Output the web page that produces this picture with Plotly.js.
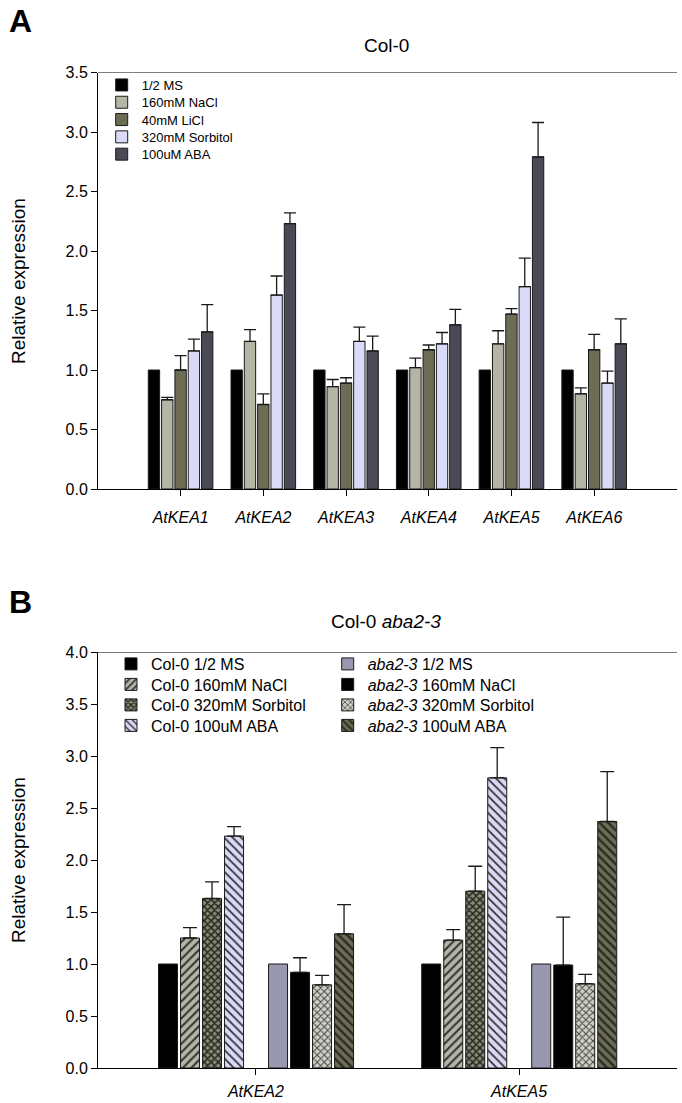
<!DOCTYPE html>
<html>
<head>
<meta charset="utf-8">
<script src="https://cdn.plot.ly/plotly-3.0.1.min.js"></script>
<style>html,body{margin:0;padding:0;background:#fff;}#chart{width:682px;height:1103px;}</style>
</head>
<body>
<div id="chart"></div>
<script>
// ---------- Panel A data ----------
const genesA = ['AtKEA1', 'AtKEA2', 'AtKEA3', 'AtKEA4', 'AtKEA5', 'AtKEA6'];
const seriesA = ['1/2 MS', '160mM NaCl', '40mM LiCl', '320mM Sorbitol', '100uM ABA'];
const msA      = [1.00, 1.00, 1.00, 1.00, 1.00, 1.00];
const naclA    = [0.75, 1.24, 0.86, 1.02, 1.22, 0.80];
const naclAErr = [0.02, 0.10, 0.06, 0.08, 0.11, 0.05];
const liclA    = [1.00, 0.71, 0.89, 1.17, 1.47, 1.17];
const liclAErr = [0.12, 0.09, 0.045, 0.04, 0.045, 0.13];
const sorbA    = [1.16, 1.63, 1.24, 1.22, 1.70, 0.89];
const sorbAErr = [0.10, 0.16, 0.12, 0.095, 0.24, 0.10];
const abaA     = [1.32, 2.23, 1.16, 1.38, 2.79, 1.22];
const abaAErr  = [0.23, 0.09, 0.125, 0.13, 0.29, 0.21];

// ---------- Panel B data ----------
const genesB = ['AtKEA2', 'AtKEA5'];
const seriesB = ['Col-0 1/2 MS', 'Col-0 160mM NaCl', 'Col-0 320mM Sorbitol', 'Col-0 100uM ABA',
                 '<i>aba2-3</i> 1/2 MS', '<i>aba2-3</i> 160mM NaCl', '<i>aba2-3</i> 320mM Sorbitol', '<i>aba2-3</i> 100uM ABA'];
const colMs      = [1.00, 1.00];
const colNacl    = [1.25, 1.23];
const colNaclErr = [0.10, 0.10];
const colSorb    = [1.63, 1.70];
const colSorbErr = [0.16, 0.24];
const colAba     = [2.23, 2.79];
const colAbaErr  = [0.09, 0.29];
const abaMs      = [1.00, 1.00];
const abaNacl    = [0.92, 0.99];
const abaNaclErr = [0.14, 0.46];
const abaSorb    = [0.80, 0.81];
const abaSorbErr = [0.09, 0.09];
const abaAba     = [1.29, 2.37];
const abaAbaErr  = [0.28, 0.48];

// ---------- helpers ----------
const W = 682, H = 1103;
const px = v => v / W;
const py = v => 1 - v / H;
const FONT = 'Arial, "Liberation Sans", sans-serif';
const zeros = n => new Array(n).fill(0);

function errObj(arr, w) {
  if (!arr) return {visible: false};
  return {type: 'data', symmetric: false, array: arr, arrayminus: zeros(arr.length),
          color: '#1a1a1a', thickness: 1.3, width: w};
}

const traces = [];
const layoutLegends = {};
let legendCount = 0;
function addLegend(xPx, yPx, size) {
  legendCount += 1;
  const id = legendCount === 1 ? 'legend' : 'legend' + legendCount;
  layoutLegends[id] = {
    x: px(xPx), y: py(yPx), xanchor: 'left', yanchor: 'middle',
    bgcolor: 'rgba(0,0,0,0)', borderwidth: 0,
    font: {family: FONT, size: size, color: '#000'},
    itemclick: false, itemdoubleclick: false
  };
  return id;
}

// ---------- Panel A traces ----------
const valsA = [msA, naclA, liclA, sorbA, abaA];
const errsA = [null, naclAErr, liclAErr, sorbAErr, abaAErr];
const colorsA = ['#000000', '#b5b5a6', '#6d6d56', '#dadaf8', '#4a4a56'];
const slotA = 0.161, widthA = 0.137, startA = -0.392;
const legARow = [85, 102.3, 119.6, 136.9, 154.2];
for (let i = 0; i < seriesA.length; i++) {
  const lg = addLegend(101.7, legARow[i], 13);
  traces.push({
    type: 'bar', name: seriesA[i], x: genesA, y: valsA[i],
    xaxis: 'x', yaxis: 'y', legend: lg,
    offset: startA + i * slotA, width: widthA,
    marker: {color: colorsA[i], line: {color: '#1a1a1a', width: 1}},
    error_y: errObj(errsA[i], 6)
  });
}

// ---------- Panel B traces ----------
const valsB = [colMs, colNacl, colSorb, colAba, abaMs, abaNacl, abaSorb, abaAba];
const errsB = [null, colNaclErr, colSorbErr, colAbaErr, null, abaNaclErr, abaSorbErr, abaAbaErr];
const bgB = ['#000000', '#b5b5a6', '#8a8a78', '#dadaf8', '#9898b0', '#000000', '#cfcfc6', '#6d6d56'];
const patB = [
  null,
  {shape: '/', fgcolor: '#333333', size: 6, solidity: 0.35},
  {shape: 'x', fgcolor: '#2a2a20', size: 5, solidity: 0.55},
  {shape: '\\', fgcolor: '#333333', size: 6, solidity: 0.3},
  null,
  null,
  {shape: 'x', fgcolor: '#444444', size: 5, solidity: 0.35},
  {shape: '\\', fgcolor: '#2a2a22', size: 6, solidity: 0.4}
];
const slotIdxB = [0, 1, 2, 3, 5, 6, 7, 8];
const slotB = 0.0836, widthB = 0.0722, startB = -0.37;
const legBRow = [664, 684.5, 705, 725.5];
for (let i = 0; i < seriesB.length; i++) {
  const col = i < 4 ? 0 : 1;
  const lg = addLegend(col === 0 ? 111 : 327.7, legBRow[i % 4], 16);
  const marker = {color: bgB[i], line: {color: '#1a1a1a', width: 1}};
  if (patB[i]) {
    marker.pattern = Object.assign({fillmode: 'replace', bgcolor: bgB[i]}, patB[i]);
  }
  traces.push({
    type: 'bar', name: seriesB[i], x: genesB, y: valsB[i],
    xaxis: 'x2', yaxis: 'y2', legend: lg,
    offset: startB + slotIdxB[i] * slotB, width: widthB,
    marker: marker,
    error_y: errObj(errsB[i], 7)
  });
}

// ---------- axes ----------
const xDom = [px(98), px(677)];
const axisCommon = {
  showline: true, linecolor: '#000', linewidth: 1,
  ticks: 'outside', ticklen: 6, tickcolor: '#000', tickwidth: 1,
  showgrid: false, zeroline: false, fixedrange: true
};
const layout = Object.assign({
  width: W, height: H,
  margin: {l: 0, r: 0, t: 0, b: 0},
  paper_bgcolor: '#fff', plot_bgcolor: '#fff',
  barmode: 'group',
  showlegend: true,
  font: {family: FONT, color: '#000'},
  xaxis: Object.assign({}, axisCommon, {
    domain: xDom, anchor: 'y', type: 'category', range: [-1, 6],
    tickfont: {family: FONT, size: 16, style: 'italic', color: '#000'}, ticklabelstandoff: 8
  }),
  yaxis: Object.assign({}, axisCommon, {
    domain: [py(489), py(72.5)], anchor: 'x', range: [0, 3.5], dtick: 0.5, tick0: 0,
    tickformat: '.1f', tickfont: {family: FONT, size: 16, color: '#000'}
  }),
  xaxis2: Object.assign({}, axisCommon, {
    domain: xDom, anchor: 'y2', type: 'category', range: [-0.6, 1.6],
    tickfont: {family: FONT, size: 16, style: 'italic', color: '#000'}, ticklabelstandoff: 3
  }),
  yaxis2: Object.assign({}, axisCommon, {
    domain: [py(1068), py(652)], anchor: 'x2', range: [0, 4], dtick: 0.5, tick0: 0,
    tickformat: '.1f', tickfont: {family: FONT, size: 16, color: '#000'}
  }),
  shapes: [
    {type: 'line', xref: 'x domain', yref: 'y', x0: 0, x1: 1, y0: 3.5, y1: 3.5, line: {color: '#000', width: 1}},
    {type: 'line', xref: 'x2 domain', yref: 'y2', x0: 0, x1: 1, y0: 4, y1: 4, line: {color: '#000', width: 1}}
  ],
  annotations: [
    {text: '<b>A</b>', xref: 'paper', yref: 'paper', x: px(20), y: py(21), showarrow: false,
     font: {family: FONT, size: 32, color: '#000'}, xanchor: 'center', yanchor: 'middle'},
    {text: 'Col-0', xref: 'paper', yref: 'paper', x: px(386), y: py(45), showarrow: false,
     font: {family: FONT, size: 19, color: '#000'}, xanchor: 'center', yanchor: 'middle'},
    {text: '<b>B</b>', xref: 'paper', yref: 'paper', x: px(20), y: py(602), showarrow: false,
     font: {family: FONT, size: 32, color: '#000'}, xanchor: 'center', yanchor: 'middle'},
    {text: 'Col-0 <i>aba2-3</i>', xref: 'paper', yref: 'paper', x: px(386), y: py(621), showarrow: false,
     font: {family: FONT, size: 19, color: '#000'}, xanchor: 'center', yanchor: 'middle'},
    {text: 'Relative expression', xref: 'paper', yref: 'paper', x: px(18), y: py(281), showarrow: false,
     textangle: -90, font: {family: FONT, size: 19, color: '#000'}, xanchor: 'center', yanchor: 'middle'},
    {text: 'Relative expression', xref: 'paper', yref: 'paper', x: px(18), y: py(860), showarrow: false,
     textangle: -90, font: {family: FONT, size: 19, color: '#000'}, xanchor: 'center', yanchor: 'middle'}
  ]
}, layoutLegends);

Plotly.newPlot('chart', traces, layout, {displayModeBar: false, staticPlot: true});
</script>
</body>
</html>
